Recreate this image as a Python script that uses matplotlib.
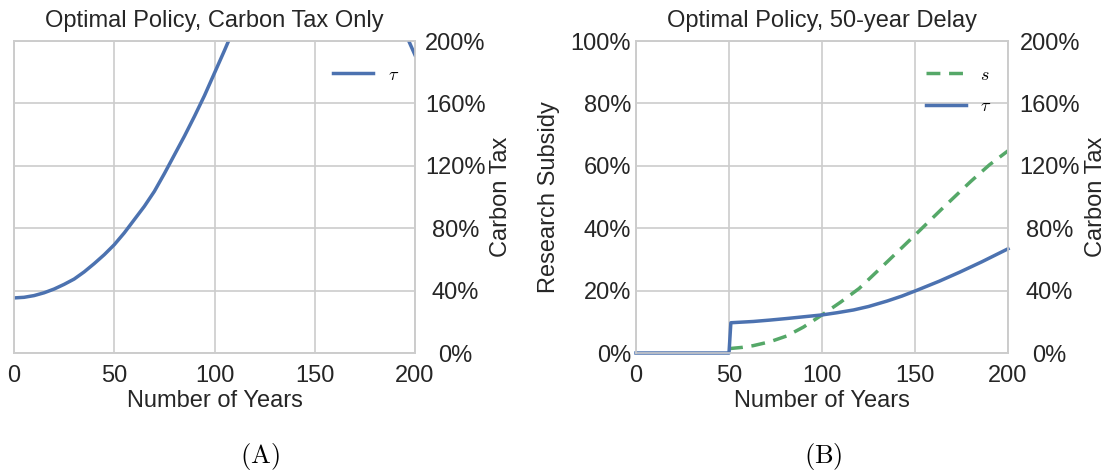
import matplotlib
matplotlib.use("Agg")
import matplotlib.pyplot as plt
from matplotlib.ticker import FuncFormatter

# ---- data ----
years_a = [0, 5, 10, 15, 20, 25, 30, 35, 40, 45, 50, 55, 60, 65, 70, 75, 80, 85, 90, 95, 100,
           105, 110, 120, 130, 140, 150, 160, 170, 180, 190, 200]
tau_a = [35.3, 35.7, 36.8, 38.6, 41, 44, 47.4, 52, 57.3, 63, 69.4, 77, 85.5, 94, 103.6, 115, 127,
         139, 151.7, 165, 179.5, 194, 209, 235, 255, 268, 273, 271, 260, 243, 220, 191]

years_b_tau = [0, 50, 51, 63, 72, 81, 90, 100, 108, 117, 125, 135, 143, 151, 163, 174, 186, 200]
tau_b = [0, 0, 19.4, 20.2, 21.1, 22.1, 23.2, 24.4, 25.8, 27.6, 29.8, 33.3, 36.5, 40.2, 46, 51.8, 58.5, 66.8]
years_b_s = [50, 57, 63, 72, 81, 90, 100, 110, 120, 135, 150, 165, 180, 190, 200]
s_b = [1.4, 1.8, 2.35, 3.6, 5.45, 8.3, 12.2, 16.3, 20.7, 29.2, 37.8, 46.5, 55, 60.3, 64.8]

x_ticks = [0, 50, 100, 150, 200]
tax_ticks = [0, 40, 80, 120, 160, 200]
sub_ticks = [0, 20, 40, 60, 80, 100]

BLUE = "#4C72B0"
GREEN = "#55A868"
GRID = "#cccccc"
FS = 17

plt.rcParams["font.family"] = ["Liberation Sans", "DejaVu Sans"]
plt.rcParams["mathtext.fontset"] = "cm"
pct = FuncFormatter(lambda v, p: f"{v:.0f}%")

fig = plt.figure(figsize=(11.06, 4.74), dpi=100)

def style(ax):
    for sp in ax.spines.values():
        sp.set_color(GRID)
        sp.set_linewidth(1.2)
    ax.tick_params(length=0, labelsize=FS, colors="#262626")

# ---- panel A ----
axA = fig.add_axes([14/1106, 1-353/474, (415-14)/1106, (353-41)/474])
style(axA)
axA.set_xlim(0, 200)
axA.set_ylim(0, 200)
axA.set_xticks(x_ticks)
axA.set_yticks(tax_ticks)
axA.set_yticklabels([])
axA.grid(True, color=GRID, linewidth=1.2)
axA.set_axisbelow(True)
axA.tick_params(axis="x", pad=9)
axA.set_xlabel("Number of Years", fontsize=FS, color="#262626", labelpad=2)
axA.set_title("Optimal Policy, Carbon Tax Only", fontsize=FS, color="#262626", pad=10)

axA2 = axA.twinx()
style(axA2)
axA2.set_ylim(0, 200)
axA2.set_yticks(tax_ticks)
axA2.yaxis.set_major_formatter(pct)
axA2.grid(False)
axA2.tick_params(axis="y", pad=29)
for t in axA2.get_yticklabels():
    t.set_ha("center")
lA, = axA2.plot(years_a, tau_a, color=BLUE, linewidth=2.5, label=r"$\tau$", clip_on=True)
axA2.set_ylabel("Carbon Tax", fontsize=FS, color="#262626")
axA2.yaxis.set_label_coords(1.188, 0.5)
axA2.legend(loc="upper right", frameon=False, fontsize=13, handlelength=2.2,
            bbox_to_anchor=(1.0, 0.97))

# ---- panel B ----
axB = fig.add_axes([636/1106, 1-353/474, (1008-636)/1106, (353-41)/474])
style(axB)
axB.set_xlim(0, 200)
axB.set_ylim(0, 100)
axB.set_xticks(x_ticks)
axB.set_yticks(sub_ticks)
axB.yaxis.set_major_formatter(pct)
axB.grid(True, color=GRID, linewidth=1.2)
axB.set_axisbelow(True)
axB.tick_params(axis="x", pad=9)
axB.set_xlabel("Number of Years", fontsize=FS, color="#262626", labelpad=2)
axB.set_ylabel("Research Subsidy", fontsize=FS, color="#262626")
axB.yaxis.set_label_coords(-0.205, 0.5)
axB.set_title("Optimal Policy, 50-year Delay", fontsize=FS, color="#262626", pad=10)
lS, = axB.plot(years_b_s, s_b, color=GREEN, linewidth=2.5, linestyle=(0, (4, 2.5)), label=r"$s$")

axB2 = axB.twinx()
style(axB2)
axB2.set_ylim(0, 200)
axB2.set_yticks(tax_ticks)
axB2.yaxis.set_major_formatter(pct)
axB2.grid(False)
axB2.tick_params(axis="y", pad=30)
for t in axB2.get_yticklabels():
    t.set_ha("center")
lT, = axB2.plot(years_b_tau, tau_b, color=BLUE, linewidth=2.5, label=r"$\tau$", clip_on=False)
axB2.set_ylabel("Carbon Tax", fontsize=FS, color="#262626")
axB2.yaxis.set_label_coords(1.207, 0.5)
axB2.legend([lS, lT], [r"$s$", r"$\tau$"], loc="upper right", frameon=False, fontsize=13,
            handlelength=2.2, bbox_to_anchor=(1.0, 0.97), labelspacing=0.8)

fig.text(260/1106, 1-457/474, r"$\mathrm{(A)}$", fontsize=19, ha="center", va="center")
fig.text(823/1106, 1-457/474, r"$\mathrm{(B)}$", fontsize=19, ha="center", va="center")

fig.savefig("out.png", dpi=100)
